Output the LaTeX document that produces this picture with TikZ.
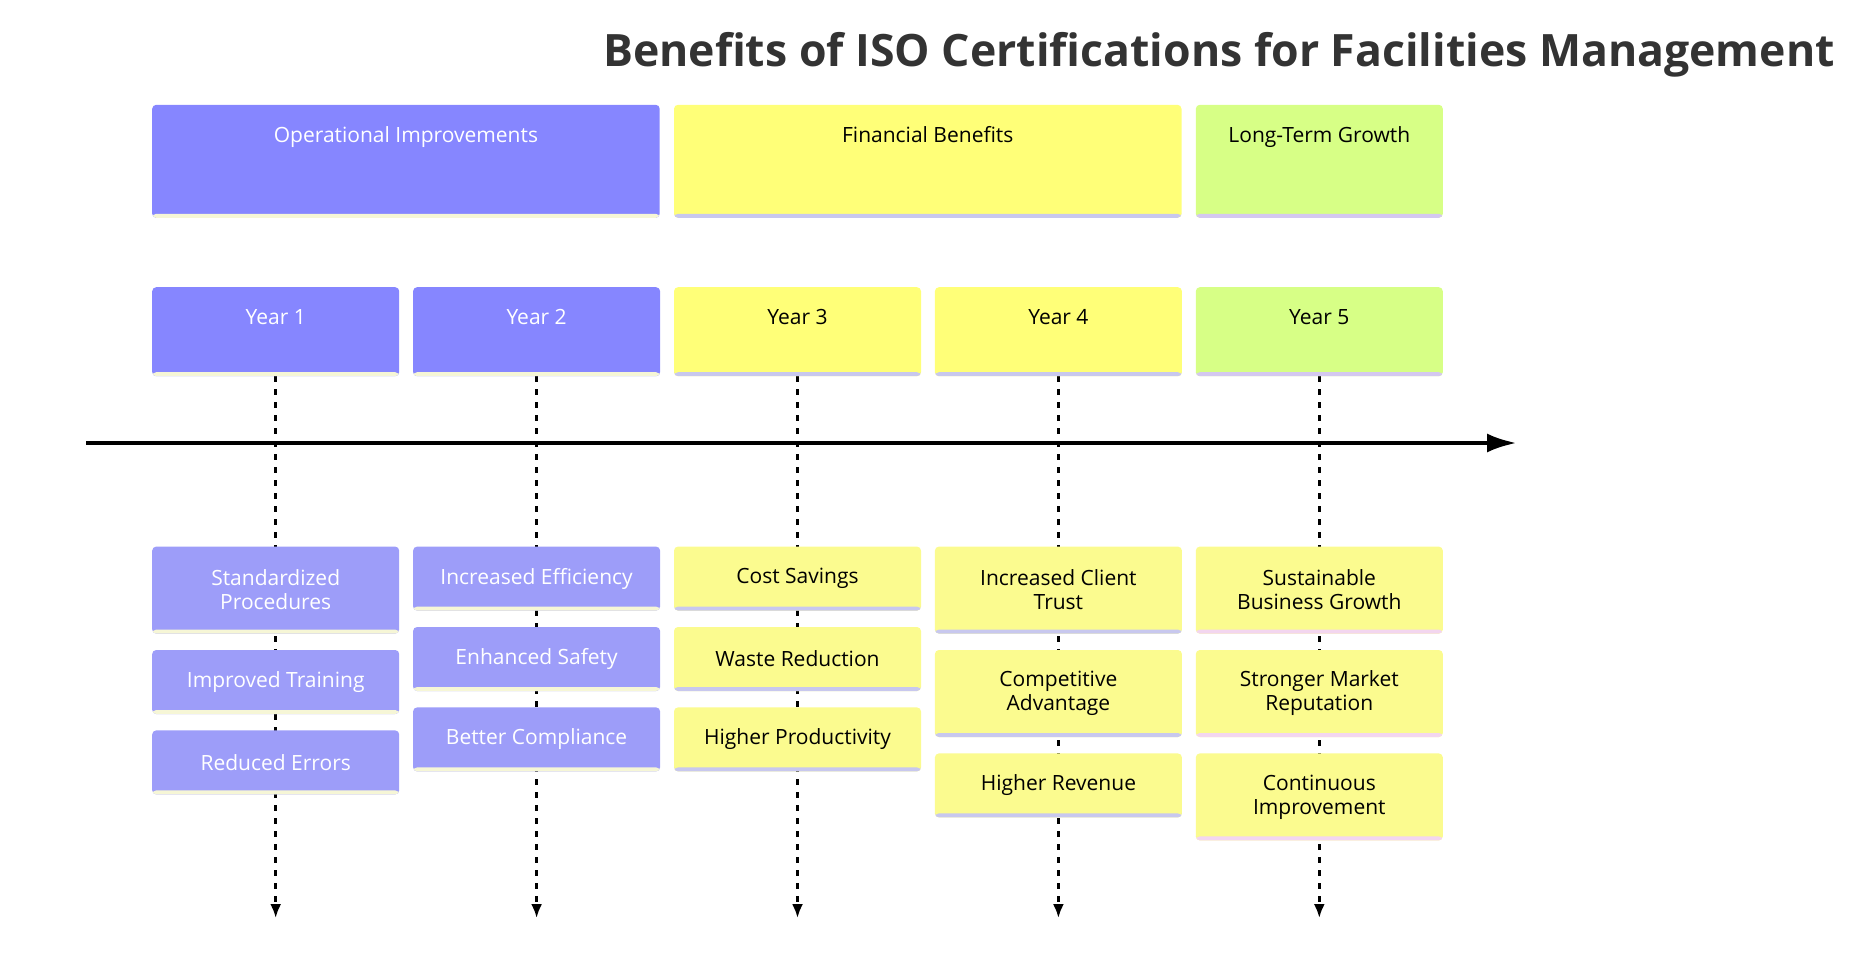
\documentclass[tikz,border=0pt]{standalone}
\usepackage{fontspec}
\setmainfont{Open Sans}
\usetikzlibrary{positioning}
\usetikzlibrary{arrows.meta}
\usetikzlibrary{backgrounds}

\definecolor{blueC}{HTML}{8686FF}
\definecolor{blueL}{HTML}{9D9DF9}
\definecolor{yellowC}{HTML}{FFFF78}
\definecolor{yellowL}{HTML}{FBFB8F}
\definecolor{greenC}{HTML}{D7FF86}
\definecolor{creamU}{HTML}{F6F6D6}
\definecolor{lilacU}{HTML}{C8C8EE}
\definecolor{mauveU}{HTML}{D4C8F0}
\definecolor{pinkU}{HTML}{F3D6EF}
\definecolor{titleC}{HTML}{333333}

\begin{document}
\begin{tikzpicture}[x=1pt,y=-1pt,
box/.style={fill=#1,rounded corners=4pt,inner sep=0pt,align=center,
  font=\fontsize{21}{24}\selectfont},
under/.style={path picture={\fill[#1] ([yshift=4pt]path picture bounding box.south west)
  rectangle (path picture bounding box.south east);}},
headbox/.style={box=#1,minimum width=507.5pt,text height=38pt,text depth=75pt},
yearbox/.style={box=#1,minimum width=247pt,text height=37pt,text depth=52pt},
item/.style={box=#1,minimum width=247pt,minimum height=64pt},
itemtwo/.style={item=#1,minimum height=87pt},
vline/.style={draw=black,line width=2.5pt,dash pattern=on 6pt off 7pt,
  -{Latex[length=14pt,width=11pt]}},
timeline/.style={draw=black,line width=4.5pt,-{Latex[length=30pt,width=19pt]}},
node distance=16pt]
\useasboundingbox (0,0) rectangle (1867,973);

\node[font=\fontsize{44.6}{48}\selectfont\bfseries,text=titleC] (title) at (1219,55)
  {Benefits of ISO Certifications for Facilities Management};

% years
\node[yearbox=blueC,under=creamU,text=white,anchor=north west] (y1) at (152,287) {Year 1};
\node[yearbox=blueC,under=creamU,text=white,right=13.5pt of y1] (y2) {Year 2};
\node[yearbox=yellowC,under=lilacU,right=13.5pt of y2] (y3) {Year 3};
\node[yearbox=yellowC,under=lilacU,right=13.5pt of y3] (y4) {Year 4};
\node[yearbox=greenC,under=mauveU,right=13.5pt of y4] (y5) {Year 5};

% sections
\node[headbox=blueC,under=creamU,text=white,anchor=south west]
  (ops) at ([yshift=69pt]y1.north west) {Operational Improvements};
\node[headbox=yellowC,under=lilacU,anchor=south west]
  (fin) at ([yshift=69pt]y3.north west) {Financial Benefits};
\node[headbox=greenC,under=mauveU,minimum width=247pt,anchor=south west]
  (grow) at ([yshift=69pt]y5.north west) {Long-Term Growth};

% events
\node[itemtwo=blueL,under=creamU,text=white,below=170pt of y1] (a1) {Standardized\\Procedures};
\node[item=blueL,under=creamU,text=white,below=of a1] (a2) {Improved Training};
\node[item=blueL,under=creamU,text=white,below=of a2] (a3) {Reduced Errors};

\node[item=blueL,under=creamU,text=white,below=170pt of y2] (b1) {Increased Efficiency};
\node[item=blueL,under=creamU,text=white,below=of b1] (b2) {Enhanced Safety};
\node[item=blueL,under=creamU,text=white,below=of b2] (b3) {Better Compliance};

\node[item=yellowL,under=lilacU,below=170pt of y3] (c1) {Cost Savings};
\node[item=yellowL,under=lilacU,below=of c1] (c2) {Waste Reduction};
\node[item=yellowL,under=lilacU,below=of c2] (c3) {Higher Productivity};

\node[itemtwo=yellowL,under=lilacU,below=170pt of y4] (d1) {Increased Client\\Trust};
\node[itemtwo=yellowL,under=lilacU,below=of d1] (d2) {Competitive\\Advantage};
\node[item=yellowL,under=lilacU,below=of d2] (d3) {Higher Revenue};

\node[itemtwo=yellowL,under=pinkU,below=170pt of y5] (e1) {Sustainable\\Business Growth};
\node[itemtwo=yellowL,under=pinkU,below=of e1] (e2) {Stronger Market\\Reputation};
\node[itemtwo=yellowL,under=pinkU,below=of e2] (e3) {Continuous\\Improvement};

\coordinate (t0) at (86,443);
\coordinate (t1) at (1517,443);

\begin{scope}[on background layer]
\foreach \i in {1,...,5}{
  \coordinate (end\i) at (y\i.south |- 0,918);
  \draw[vline] (y\i.south) -- (end\i);
}
\draw[timeline] (t0) -- (t1);
\end{scope}
\end{tikzpicture}
\end{document}
